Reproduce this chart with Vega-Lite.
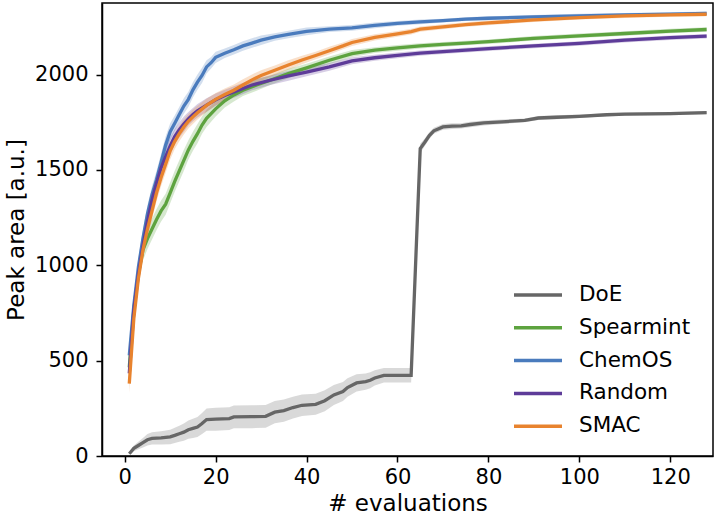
{
  "$schema": "https://vega.github.io/schema/vega-lite/v6.json",
  "width": 611,
  "height": 453,
  "autosize": {"type": "none"},
  "padding": {"left": 102, "top": 3, "right": 2, "bottom": 63},
  "background": "white",
  "config": {
    "view": {"stroke": "black", "strokeWidth": 1.5},
    "font": "DejaVu Sans",
    "axis": {
      "grid": false,
      "domainColor": "black",
      "domainWidth": 1.5,
      "tickColor": "black",
      "tickWidth": 1.5,
      "tickSize": 6,
      "labelColor": "black",
      "labelFont": "DejaVu Sans",
      "labelFontSize": 21,
      "titleFont": "DejaVu Sans",
      "titleFontSize": 23,
      "titleFontWeight": "normal",
      "titleColor": "black"
    }
  },
  "data": {"values": [
    {"m":"DoE","x":1,"y":12,"lo":7,"hi":17},
    {"m":"DoE","x":2,"y":40,"lo":25,"hi":55},
    {"m":"DoE","x":3,"y":55,"lo":35,"hi":75},
    {"m":"DoE","x":4,"y":70,"lo":45,"hi":95},
    {"m":"DoE","x":5,"y":85,"lo":55,"hi":115},
    {"m":"DoE","x":6,"y":92,"lo":60,"hi":124},
    {"m":"DoE","x":8,"y":95,"lo":60,"hi":130},
    {"m":"DoE","x":10,"y":100,"lo":62,"hi":138},
    {"m":"DoE","x":11,"y":108,"lo":68,"hi":148},
    {"m":"DoE","x":12,"y":117,"lo":75,"hi":159},
    {"m":"DoE","x":13,"y":125,"lo":80,"hi":170},
    {"m":"DoE","x":14,"y":138,"lo":90,"hi":186},
    {"m":"DoE","x":15,"y":145,"lo":95,"hi":195},
    {"m":"DoE","x":16,"y":152,"lo":100,"hi":204},
    {"m":"DoE","x":17,"y":170,"lo":115,"hi":225},
    {"m":"DoE","x":18,"y":191,"lo":133,"hi":249},
    {"m":"DoE","x":20,"y":193,"lo":133,"hi":253},
    {"m":"DoE","x":23,"y":196,"lo":136,"hi":256},
    {"m":"DoE","x":24,"y":205,"lo":145,"hi":265},
    {"m":"DoE","x":28,"y":206,"lo":146,"hi":266},
    {"m":"DoE","x":31,"y":208,"lo":148,"hi":268},
    {"m":"DoE","x":33,"y":230,"lo":172,"hi":288},
    {"m":"DoE","x":35,"y":238,"lo":180,"hi":296},
    {"m":"DoE","x":37,"y":254,"lo":197,"hi":311},
    {"m":"DoE","x":39,"y":266,"lo":210,"hi":322},
    {"m":"DoE","x":42,"y":271,"lo":216,"hi":326},
    {"m":"DoE","x":44,"y":290,"lo":235,"hi":345},
    {"m":"DoE","x":46,"y":320,"lo":268,"hi":372},
    {"m":"DoE","x":48,"y":338,"lo":288,"hi":388},
    {"m":"DoE","x":49,"y":359,"lo":311,"hi":407},
    {"m":"DoE","x":51,"y":383,"lo":338,"hi":428},
    {"m":"DoE","x":53,"y":390,"lo":347,"hi":433},
    {"m":"DoE","x":54,"y":397,"lo":355,"hi":439},
    {"m":"DoE","x":55,"y":409,"lo":369,"hi":449},
    {"m":"DoE","x":57,"y":423,"lo":385,"hi":461},
    {"m":"DoE","x":63,"y":423,"lo":385,"hi":461},
    {"m":"DoE","x":65,"y":1612,"lo":1587,"hi":1637},
    {"m":"DoE","x":66,"y":1645,"lo":1625,"hi":1665},
    {"m":"DoE","x":67,"y":1680,"lo":1662,"hi":1698},
    {"m":"DoE","x":68,"y":1705,"lo":1689,"hi":1721},
    {"m":"DoE","x":70,"y":1725,"lo":1710,"hi":1740},
    {"m":"DoE","x":72,"y":1729,"lo":1714,"hi":1744},
    {"m":"DoE","x":74,"y":1731,"lo":1717,"hi":1745},
    {"m":"DoE","x":76,"y":1738,"lo":1724,"hi":1752},
    {"m":"DoE","x":79,"y":1746,"lo":1733,"hi":1759},
    {"m":"DoE","x":83,"y":1752,"lo":1740,"hi":1764},
    {"m":"DoE","x":88,"y":1760,"lo":1750,"hi":1770},
    {"m":"DoE","x":91,"y":1772,"lo":1762,"hi":1782},
    {"m":"DoE","x":95,"y":1776,"lo":1766,"hi":1786},
    {"m":"DoE","x":100,"y":1781,"lo":1772,"hi":1790},
    {"m":"DoE","x":106,"y":1789,"lo":1781,"hi":1797},
    {"m":"DoE","x":110,"y":1792,"lo":1784,"hi":1800},
    {"m":"DoE","x":120,"y":1795,"lo":1787,"hi":1803},
    {"m":"DoE","x":128,"y":1800,"lo":1792,"hi":1808},

    {"m":"Spearmint","x":1,"y":465,"lo":425,"hi":505},
    {"m":"Spearmint","x":2,"y":770,"lo":715,"hi":825},
    {"m":"Spearmint","x":3,"y":960,"lo":905,"hi":1015},
    {"m":"Spearmint","x":4,"y":1080,"lo":1025,"hi":1135},
    {"m":"Spearmint","x":5,"y":1140,"lo":1085,"hi":1195},
    {"m":"Spearmint","x":6,"y":1190,"lo":1135,"hi":1245},
    {"m":"Spearmint","x":7,"y":1240,"lo":1185,"hi":1295},
    {"m":"Spearmint","x":8,"y":1285,"lo":1230,"hi":1340},
    {"m":"Spearmint","x":9,"y":1320,"lo":1265,"hi":1375},
    {"m":"Spearmint","x":10,"y":1380,"lo":1325,"hi":1435},
    {"m":"Spearmint","x":11,"y":1440,"lo":1385,"hi":1495},
    {"m":"Spearmint","x":12,"y":1495,"lo":1440,"hi":1550},
    {"m":"Spearmint","x":13,"y":1550,"lo":1495,"hi":1605},
    {"m":"Spearmint","x":14,"y":1605,"lo":1555,"hi":1655},
    {"m":"Spearmint","x":15,"y":1650,"lo":1600,"hi":1700},
    {"m":"Spearmint","x":16,"y":1690,"lo":1640,"hi":1740},
    {"m":"Spearmint","x":17,"y":1735,"lo":1690,"hi":1780},
    {"m":"Spearmint","x":18,"y":1770,"lo":1725,"hi":1815},
    {"m":"Spearmint","x":20,"y":1820,"lo":1780,"hi":1860},
    {"m":"Spearmint","x":22,"y":1862,"lo":1827,"hi":1897},
    {"m":"Spearmint","x":24,"y":1893,"lo":1858,"hi":1928},
    {"m":"Spearmint","x":26,"y":1918,"lo":1888,"hi":1948},
    {"m":"Spearmint","x":29,"y":1945,"lo":1915,"hi":1975},
    {"m":"Spearmint","x":32,"y":1970,"lo":1945,"hi":1995},
    {"m":"Spearmint","x":36,"y":2005,"lo":1980,"hi":2030},
    {"m":"Spearmint","x":40,"y":2035,"lo":2013,"hi":2057},
    {"m":"Spearmint","x":45,"y":2075,"lo":2055,"hi":2095},
    {"m":"Spearmint","x":50,"y":2110,"lo":2092,"hi":2128},
    {"m":"Spearmint","x":55,"y":2128,"lo":2113,"hi":2143},
    {"m":"Spearmint","x":60,"y":2140,"lo":2125,"hi":2155},
    {"m":"Spearmint","x":65,"y":2150,"lo":2136,"hi":2164},
    {"m":"Spearmint","x":70,"y":2158,"lo":2145,"hi":2171},
    {"m":"Spearmint","x":75,"y":2165,"lo":2153,"hi":2177},
    {"m":"Spearmint","x":80,"y":2172,"lo":2160,"hi":2184},
    {"m":"Spearmint","x":90,"y":2190,"lo":2178,"hi":2202},
    {"m":"Spearmint","x":100,"y":2203,"lo":2191,"hi":2215},
    {"m":"Spearmint","x":110,"y":2215,"lo":2203,"hi":2227},
    {"m":"Spearmint","x":120,"y":2228,"lo":2216,"hi":2240},
    {"m":"Spearmint","x":128,"y":2236,"lo":2224,"hi":2248},

    {"m":"ChemOS","x":1,"y":528,"lo":498,"hi":558},
    {"m":"ChemOS","x":2,"y":790,"lo":745,"hi":835},
    {"m":"ChemOS","x":3,"y":990,"lo":945,"hi":1035},
    {"m":"ChemOS","x":4,"y":1140,"lo":1095,"hi":1185},
    {"m":"ChemOS","x":5,"y":1270,"lo":1225,"hi":1315},
    {"m":"ChemOS","x":6,"y":1370,"lo":1325,"hi":1415},
    {"m":"ChemOS","x":7,"y":1450,"lo":1405,"hi":1495},
    {"m":"ChemOS","x":8,"y":1540,"lo":1495,"hi":1585},
    {"m":"ChemOS","x":9,"y":1630,"lo":1585,"hi":1675},
    {"m":"ChemOS","x":10,"y":1700,"lo":1655,"hi":1745},
    {"m":"ChemOS","x":11,"y":1745,"lo":1705,"hi":1785},
    {"m":"ChemOS","x":12,"y":1790,"lo":1750,"hi":1830},
    {"m":"ChemOS","x":13,"y":1835,"lo":1795,"hi":1875},
    {"m":"ChemOS","x":14,"y":1870,"lo":1830,"hi":1910},
    {"m":"ChemOS","x":15,"y":1920,"lo":1880,"hi":1960},
    {"m":"ChemOS","x":16,"y":1960,"lo":1920,"hi":2000},
    {"m":"ChemOS","x":17,"y":1995,"lo":1955,"hi":2035},
    {"m":"ChemOS","x":18,"y":2040,"lo":2005,"hi":2075},
    {"m":"ChemOS","x":19,"y":2062,"lo":2032,"hi":2092},
    {"m":"ChemOS","x":20,"y":2090,"lo":2060,"hi":2120},
    {"m":"ChemOS","x":22,"y":2112,"lo":2087,"hi":2137},
    {"m":"ChemOS","x":24,"y":2130,"lo":2105,"hi":2155},
    {"m":"ChemOS","x":26,"y":2150,"lo":2125,"hi":2175},
    {"m":"ChemOS","x":28,"y":2165,"lo":2140,"hi":2190},
    {"m":"ChemOS","x":30,"y":2180,"lo":2155,"hi":2205},
    {"m":"ChemOS","x":33,"y":2197,"lo":2177,"hi":2217},
    {"m":"ChemOS","x":36,"y":2210,"lo":2190,"hi":2230},
    {"m":"ChemOS","x":40,"y":2226,"lo":2206,"hi":2246},
    {"m":"ChemOS","x":45,"y":2238,"lo":2223,"hi":2253},
    {"m":"ChemOS","x":50,"y":2245,"lo":2230,"hi":2260},
    {"m":"ChemOS","x":55,"y":2258,"lo":2243,"hi":2273},
    {"m":"ChemOS","x":60,"y":2268,"lo":2256,"hi":2280},
    {"m":"ChemOS","x":65,"y":2276,"lo":2264,"hi":2288},
    {"m":"ChemOS","x":70,"y":2283,"lo":2273,"hi":2293},
    {"m":"ChemOS","x":75,"y":2290,"lo":2280,"hi":2300},
    {"m":"ChemOS","x":80,"y":2295,"lo":2285,"hi":2305},
    {"m":"ChemOS","x":90,"y":2302,"lo":2292,"hi":2312},
    {"m":"ChemOS","x":100,"y":2308,"lo":2298,"hi":2318},
    {"m":"ChemOS","x":110,"y":2313,"lo":2303,"hi":2323},
    {"m":"ChemOS","x":120,"y":2317,"lo":2307,"hi":2327},
    {"m":"ChemOS","x":128,"y":2321,"lo":2311,"hi":2331},

    {"m":"Random","x":1,"y":433,"lo":393,"hi":473},
    {"m":"Random","x":2,"y":760,"lo":715,"hi":805},
    {"m":"Random","x":3,"y":950,"lo":905,"hi":995},
    {"m":"Random","x":4,"y":1100,"lo":1055,"hi":1145},
    {"m":"Random","x":5,"y":1230,"lo":1185,"hi":1275},
    {"m":"Random","x":6,"y":1340,"lo":1295,"hi":1385},
    {"m":"Random","x":7,"y":1430,"lo":1385,"hi":1475},
    {"m":"Random","x":8,"y":1510,"lo":1465,"hi":1555},
    {"m":"Random","x":9,"y":1570,"lo":1525,"hi":1615},
    {"m":"Random","x":10,"y":1625,"lo":1580,"hi":1670},
    {"m":"Random","x":11,"y":1675,"lo":1635,"hi":1715},
    {"m":"Random","x":12,"y":1710,"lo":1670,"hi":1750},
    {"m":"Random","x":13,"y":1740,"lo":1700,"hi":1780},
    {"m":"Random","x":14,"y":1768,"lo":1733,"hi":1803},
    {"m":"Random","x":15,"y":1790,"lo":1755,"hi":1825},
    {"m":"Random","x":16,"y":1810,"lo":1775,"hi":1845},
    {"m":"Random","x":18,"y":1840,"lo":1805,"hi":1875},
    {"m":"Random","x":20,"y":1868,"lo":1836,"hi":1900},
    {"m":"Random","x":22,"y":1890,"lo":1860,"hi":1920},
    {"m":"Random","x":25,"y":1918,"lo":1888,"hi":1948},
    {"m":"Random","x":28,"y":1945,"lo":1917,"hi":1973},
    {"m":"Random","x":32,"y":1970,"lo":1945,"hi":1995},
    {"m":"Random","x":36,"y":1993,"lo":1968,"hi":2018},
    {"m":"Random","x":40,"y":2013,"lo":1991,"hi":2035},
    {"m":"Random","x":45,"y":2040,"lo":2020,"hi":2060},
    {"m":"Random","x":50,"y":2072,"lo":2054,"hi":2090},
    {"m":"Random","x":55,"y":2088,"lo":2072,"hi":2104},
    {"m":"Random","x":60,"y":2100,"lo":2085,"hi":2115},
    {"m":"Random","x":65,"y":2112,"lo":2098,"hi":2126},
    {"m":"Random","x":70,"y":2120,"lo":2107,"hi":2133},
    {"m":"Random","x":75,"y":2128,"lo":2116,"hi":2140},
    {"m":"Random","x":80,"y":2136,"lo":2124,"hi":2148},
    {"m":"Random","x":90,"y":2150,"lo":2138,"hi":2162},
    {"m":"Random","x":100,"y":2163,"lo":2151,"hi":2175},
    {"m":"Random","x":110,"y":2180,"lo":2168,"hi":2192},
    {"m":"Random","x":120,"y":2193,"lo":2181,"hi":2205},
    {"m":"Random","x":128,"y":2201,"lo":2189,"hi":2213},

    {"m":"SMAC","x":1,"y":380,"lo":330,"hi":430},
    {"m":"SMAC","x":2,"y":720,"lo":670,"hi":770},
    {"m":"SMAC","x":3,"y":930,"lo":885,"hi":975},
    {"m":"SMAC","x":4,"y":1080,"lo":1035,"hi":1125},
    {"m":"SMAC","x":5,"y":1190,"lo":1145,"hi":1235},
    {"m":"SMAC","x":6,"y":1285,"lo":1240,"hi":1330},
    {"m":"SMAC","x":7,"y":1380,"lo":1335,"hi":1425},
    {"m":"SMAC","x":8,"y":1460,"lo":1415,"hi":1505},
    {"m":"SMAC","x":9,"y":1530,"lo":1485,"hi":1575},
    {"m":"SMAC","x":10,"y":1600,"lo":1555,"hi":1645},
    {"m":"SMAC","x":11,"y":1650,"lo":1610,"hi":1690},
    {"m":"SMAC","x":12,"y":1690,"lo":1650,"hi":1730},
    {"m":"SMAC","x":13,"y":1725,"lo":1685,"hi":1765},
    {"m":"SMAC","x":14,"y":1755,"lo":1717,"hi":1793},
    {"m":"SMAC","x":15,"y":1778,"lo":1740,"hi":1816},
    {"m":"SMAC","x":16,"y":1800,"lo":1764,"hi":1836},
    {"m":"SMAC","x":18,"y":1838,"lo":1803,"hi":1873},
    {"m":"SMAC","x":20,"y":1870,"lo":1837,"hi":1903},
    {"m":"SMAC","x":22,"y":1895,"lo":1863,"hi":1927},
    {"m":"SMAC","x":24,"y":1918,"lo":1888,"hi":1948},
    {"m":"SMAC","x":26,"y":1945,"lo":1915,"hi":1975},
    {"m":"SMAC","x":28,"y":1972,"lo":1944,"hi":2000},
    {"m":"SMAC","x":30,"y":1995,"lo":1967,"hi":2023},
    {"m":"SMAC","x":33,"y":2022,"lo":1997,"hi":2047},
    {"m":"SMAC","x":36,"y":2050,"lo":2025,"hi":2075},
    {"m":"SMAC","x":39,"y":2076,"lo":2054,"hi":2098},
    {"m":"SMAC","x":42,"y":2100,"lo":2080,"hi":2120},
    {"m":"SMAC","x":45,"y":2125,"lo":2105,"hi":2145},
    {"m":"SMAC","x":48,"y":2150,"lo":2132,"hi":2168},
    {"m":"SMAC","x":50,"y":2168,"lo":2150,"hi":2186},
    {"m":"SMAC","x":55,"y":2195,"lo":2179,"hi":2211},
    {"m":"SMAC","x":60,"y":2213,"lo":2198,"hi":2228},
    {"m":"SMAC","x":63,"y":2225,"lo":2210,"hi":2240},
    {"m":"SMAC","x":65,"y":2238,"lo":2224,"hi":2252},
    {"m":"SMAC","x":70,"y":2250,"lo":2237,"hi":2263},
    {"m":"SMAC","x":75,"y":2262,"lo":2250,"hi":2274},
    {"m":"SMAC","x":80,"y":2271,"lo":2259,"hi":2283},
    {"m":"SMAC","x":90,"y":2286,"lo":2276,"hi":2296},
    {"m":"SMAC","x":100,"y":2298,"lo":2288,"hi":2308},
    {"m":"SMAC","x":110,"y":2307,"lo":2297,"hi":2317},
    {"m":"SMAC","x":120,"y":2313,"lo":2303,"hi":2323},
    {"m":"SMAC","x":128,"y":2316,"lo":2306,"hi":2326}
  ]},
  "layer": [
    {
      "mark": {"type": "area", "opacity": 0.25, "clip": true},
      "encoding": {
        "x": {"field": "x", "type": "quantitative", "scale": {"domain": [-5, 129.4], "nice": false, "zero": false},
              "axis": {"values": [0, 20, 40, 60, 80, 100, 120], "title": "# evaluations", "labelPadding": 4, "titlePadding": 5, "labelFlush": false}},
        "y": {"field": "lo", "type": "quantitative", "scale": {"domain": [0, 2375], "nice": false},
              "axis": {"values": [0, 500, 1000, 1500, 2000], "format": "d", "title": "Peak area [a.u.]", "labelPadding": 8, "titlePadding": 6}},
        "y2": {"field": "hi"},
        "fill": {"field": "m", "type": "nominal",
                 "scale": {"domain": ["ChemOS", "DoE", "Random", "SMAC", "Spearmint"], "range": ["#4a7bbd", "#666666", "#5e3c99", "#e8832e", "#5da33f"]},
                 "legend": null}
      }
    },
    {
      "mark": {"type": "line", "strokeWidth": 3.3, "clip": true},
      "encoding": {
        "x": {"field": "x", "type": "quantitative"},
        "y": {"field": "y", "type": "quantitative"},
        "color": {"field": "m", "type": "nominal",
                  "scale": {"domain": ["DoE", "Spearmint", "ChemOS", "Random", "SMAC"], "range": ["#666666", "#5da33f", "#4a7bbd", "#5e3c99", "#e8832e"]},
                  "legend": {"title": null, "orient": "none", "legendX": 418, "legendY": 274, "padding": 0,
                             "symbolType": "M-1.5,0H1.5", "symbolSize": 1024, "symbolStrokeWidth": 3.5,
                             "labelFont": "DejaVu Sans", "labelFontSize": 21.5, "labelColor": "black", "labelOffset": 23,
                             "rowPadding": 3.8}}
      }
    }
  ]
}
